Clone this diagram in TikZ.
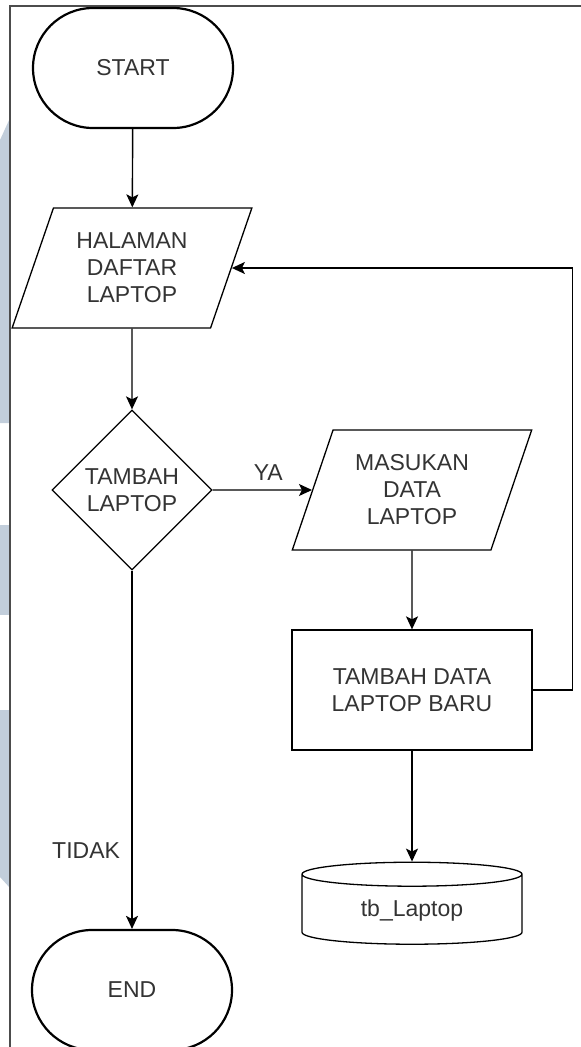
\documentclass[tikz,border=0pt]{standalone}
\usepackage{fontspec}
\setmainfont{Liberation Sans}
\usetikzlibrary{shapes.geometric,arrows.meta}

\definecolor{wmark}{HTML}{C2CEDB}

\begin{document}
\begin{tikzpicture}[x=1pt,y=-1pt,
  every node/.style={font=\fontsize{23}{27}\selectfont, text=black!80, align=center},
  terminal/.style={draw, line width=2.2pt, rectangle, rounded corners=60pt, minimum width=200pt, minimum height=120pt},
  io/.style={draw, line width=1.3pt, trapezium, trapezium left angle=68, trapezium right angle=112, trapezium stretches=true, minimum width=240pt, minimum height=120pt},
  decision/.style={draw, line width=1.3pt, diamond, aspect=1, inner sep=0pt, minimum width=160pt, minimum height=160pt},
  process/.style={draw, line width=1.3pt, rectangle, minimum width=240pt, minimum height=120pt},
  store/.style={draw, line width=1.3pt, cylinder, shape border rotate=90, aspect=0.22, minimum width=220pt, minimum height=82pt},
  flow/.style={line width=1.4pt, -{Stealth[length=13pt,width=12pt,inset=3pt]}}]
\useasboundingbox (0,0) rectangle (581,1047);

% background marks and page frame
\fill[wmark] (0,140) -- (10,118) -- (10,423) -- (0,423) -- cycle;
\fill[wmark] (0,525) rectangle (10,615);
\fill[wmark] (0,710) -- (10,710) -- (10,888) -- (0,877) -- cycle;
\draw[line width=1.3pt, black!70] (581,6) -- (10,6) -- (10,1047);

% nodes
\node[terminal] (start) at (133,68) {START};
\node[io] (halaman) at (132,268) {HALAMAN\\DAFTAR\\LAPTOP};
\node[decision] (tambah) at (132,490) {TAMBAH\\LAPTOP};
\node[io] (masukan) at (412,490) {MASUKAN\\DATA\\LAPTOP};
\node[process] (simpan) at (412,690) {TAMBAH DATA\\LAPTOP BARU};
\node[store] (tbl) at (412,911) {tb\_Laptop};
\node[terminal] (end) at (132,990) {END};

% connectors
\draw[flow] (start) -- (halaman);
\draw[flow] (halaman) -- (tambah);
\draw[flow] (tambah) -- node[above, pos=0.56, yshift=5pt] {YA} (masukan);
\draw[flow] (masukan) -- (simpan);
\draw[flow] (simpan) -- (tbl);
\draw[flow] (simpan.east) -- ++(40,0) |- (halaman.east);
\draw[flow] (tambah) -- node[left, pos=0.78, xshift=-8pt] {TIDAK} (end);
\end{tikzpicture}
\end{document}
